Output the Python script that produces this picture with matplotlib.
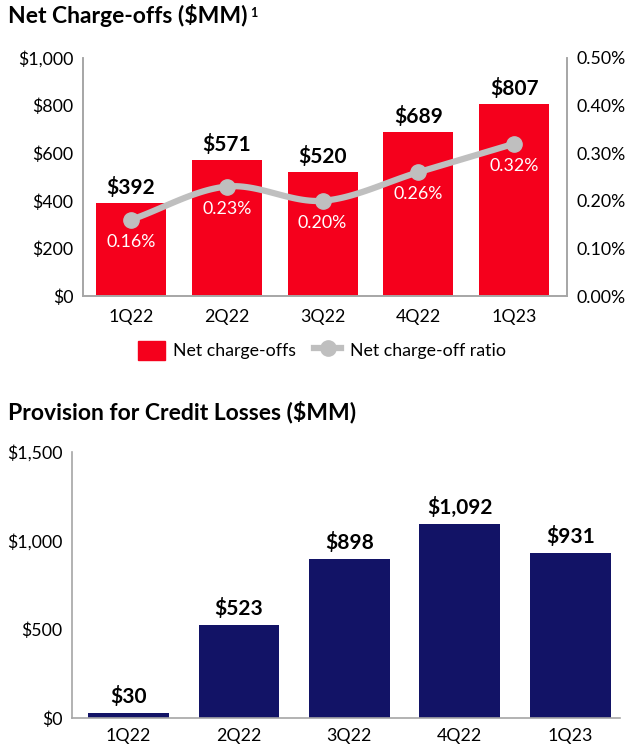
import numpy as np
import matplotlib
matplotlib.use("Agg")
import matplotlib.pyplot as plt
from matplotlib.lines import Line2D
from matplotlib.patches import Patch
from matplotlib.transforms import offset_copy

plt.rcParams["font.family"] = ["Lato", "DejaVu Sans"]
plt.rcParams["text.parse_math"] = False

quarters = ["1Q22", "2Q22", "3Q22", "4Q22", "1Q23"]
net_charge_offs = [392, 571, 520, 689, 807]
nco_ratio = [0.16, 0.23, 0.20, 0.26, 0.32]
provision = [30, 523, 898, 1092, 931]

RED = "#F5001C"
NAVY = "#121366"
GRAY_LINE = "#BFBFBF"
SPINE = "#A6A6A6"
TICK_FS = 12.8
VAL_FS = 15
TITLE_FS = 16.5


def smooth(x, y, n=30):
    # catmull-rom through the points, only for the drawn curve
    x = np.asarray(x, float)
    y = np.asarray(y, float)
    px = np.concatenate([[2 * x[0] - x[1]], x, [2 * x[-1] - x[-2]]])
    py = np.concatenate([[2 * y[0] - y[1]], y, [2 * y[-1] - y[-2]]])
    xs, ys = [], []
    t = np.linspace(0, 1, n)
    for i in range(1, len(px) - 2):
        for p, out in ((px, xs), (py, ys)):
            p0, p1, p2, p3 = p[i - 1], p[i], p[i + 1], p[i + 2]
            out.extend(0.5 * ((2 * p1) + (-p0 + p2) * t
                              + (2 * p0 - 5 * p1 + 4 * p2 - p3) * t ** 2
                              + (-p0 + 3 * p1 - 3 * p2 + p3) * t ** 3))
    return np.array(xs), np.array(ys)


fig = plt.figure(figsize=(6.31, 7.5), dpi=100)

# ---- top chart: net charge-offs
ax1 = fig.add_axes([0.1315, 0.6053, 0.7671, 0.3174])
x = np.arange(len(quarters))
ax1.bar(x, net_charge_offs, width=0.73, color=RED, zorder=2)
ax1.set_xlim(-0.5, 4.55)
ax1.set_ylim(0, 1000)
ax1.set_yticks(range(0, 1001, 200))
ax1.set_yticklabels([f"${v:,}" for v in range(0, 1001, 200)])
ax1.set_xticks(x)
ax1.set_xticklabels(quarters)
for v, xi in zip(net_charge_offs, x):
    ax1.annotate(f"${v:,}", (xi, v), xytext=(0, 5), textcoords="offset pixels",
                 ha="center", va="bottom", fontsize=VAL_FS, fontweight="bold")

ax2 = ax1.twinx()
ax2.set_ylim(0, 0.5)
ax2.set_yticks(np.arange(0, 0.51, 0.1))
ax2.set_yticklabels([f"{v:.2f}%" for v in np.arange(0, 0.51, 0.1)])
sx, sy = smooth(x, nco_ratio)
ax2.plot(sx, sy, color=GRAY_LINE, lw=4.5, zorder=3, solid_capstyle="round")
ax2.plot(x, nco_ratio, "o", color=GRAY_LINE, ms=11, zorder=4)
for v, xi in zip(nco_ratio, x):
    ax2.annotate(f"{v:.2f}%", (xi, v), xytext=(0, -14), textcoords="offset pixels",
                 ha="center", va="top", fontsize=TICK_FS, color="white")

for a in (ax1, ax2):
    a.spines["top"].set_visible(False)
    for s in ("left", "right", "bottom"):
        a.spines[s].set_color(SPINE)
        a.spines[s].set_linewidth(1.2)
    a.tick_params(length=0, labelsize=TICK_FS, pad=7)
ax1.tick_params(axis="x", pad=9)

t1 = fig.text(0.013, 0.979, "Net Charge-offs ($MM)", fontsize=TITLE_FS,
              fontweight="bold", va="center", ha="left")
fig.canvas.draw()
bb = t1.get_window_extent()
fig.text(bb.x1 + 2, bb.y1 - 3, "1", fontsize=9, fontweight="bold",
         va="top", ha="left", transform=None)

handles = [Patch(color=RED),
           Line2D([], [], color=GRAY_LINE, lw=4.5, marker="o", ms=11)]
fig.legend(handles, ["Net charge-offs", "Net charge-off ratio"], loc="center",
           bbox_to_anchor=(0.51, 0.533), ncol=2, frameon=False, fontsize=TICK_FS,
           handlelength=1.5, handleheight=1.3, columnspacing=1.0, handletextpad=0.5)

# ---- bottom chart: provision for credit losses
ax3 = fig.add_axes([0.1141, 0.0427, 0.8685, 0.3546])
ax3.bar(x, provision, width=0.73, color=NAVY, zorder=2)
ax3.set_xlim(-0.51, 4.45)
ax3.set_ylim(0, 1500)
ax3.set_yticks(range(0, 1501, 500))
ax3.set_yticklabels([f"${v:,}" for v in range(0, 1501, 500)])
ax3.set_xticks(x)
ax3.set_xticklabels(quarters)
for v, xi in zip(provision, x):
    ax3.annotate(f"${v:,}", (xi, v), xytext=(0, 6), textcoords="offset pixels",
                 ha="center", va="bottom", fontsize=VAL_FS, fontweight="bold")
for s in ("top", "right"):
    ax3.spines[s].set_visible(False)
for s in ("left", "bottom"):
    ax3.spines[s].set_color(SPINE)
    ax3.spines[s].set_linewidth(1.2)
ax3.tick_params(length=0, labelsize=TICK_FS, pad=7)

fig.text(0.013, 0.451, "Provision for Credit Losses ($MM)", fontsize=TITLE_FS,
         fontweight="bold", va="center", ha="left")

fig.savefig("out.png", dpi=100)
